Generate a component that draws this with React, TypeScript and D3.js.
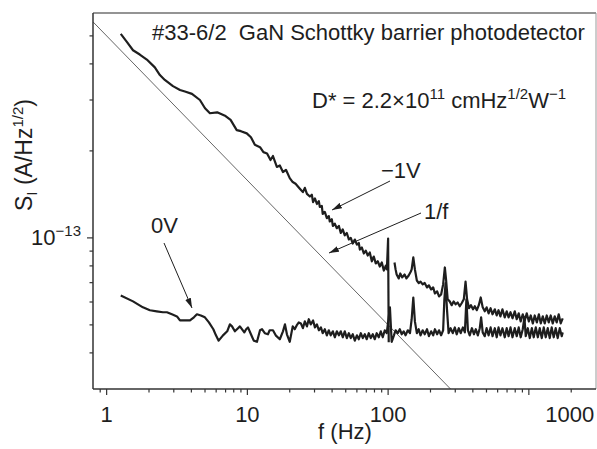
import React, { useEffect, useRef } from "react";
import * as d3 from "d3";

// Noise spectra of a GaN Schottky barrier photodetector (log-log).
// Frequencies in Hz, S_I in units of 1e-14 A/Hz^1/2 (S_UNIT).
const S_UNIT = 1e-14;

// -1V bias trace; null marks a break in the trace just after the 100 Hz line
const freqMinus1V = [
  1.26, 1.4, 1.54, 1.72, 1.93, 2.2, 2.39, 2.59, 2.96, 3.32, 3.6, 4.04, 4.6, 5.0, 5.42, 6.1, 7.0, 7.6, 8.4, 9.0,
  9.9, 10.6, 11.3, 12.3, 13.0, 13.8, 14.6, 15.2, 16.2, 17.0, 17.9, 18.8, 20.0, 21.0, 22.0, 23.6,
  24.8, 25.6, 26.5, 27.8, 28.7, 29.3, 30.2, 31.2, 32.2, 32.7, 33.8, 34.3, 35.5, 36.7, 37.9, 38.5, 39.8, 40.5,
  41.8, 43.2, 44.7, 46.1, 47.6, 49.2, 50.9, 52.6, 54.3, 56.1, 58.0, 60.0, 61.9, 63.0, 65.1, 67.2, 69.4, 71.7,
  74.1, 76.6, 79.1, 81.7, 84.4, 87.3, 90.2, 93.2, 96.3, 98.0, 100, 101, 105,
  111, 113, 115, 119, 122, 126, 131, 135, 140, 145, 147, 151, 155, 160, 165, 170, 176, 182, 189, 195, 202, 209,
  215, 223, 230, 238, 246, 253, 258, 265, 274, 283, 292, 302, 312, 323, 333, 345, 355, 364, 376, 388, 401, 413,
  427, 441, 455, 470, 486, 501, 518, 535, 552, 573, 591, 609, 628, 649, 674, 696, 718, 741, 765, 794, 820, 847,
  875, 905, 935, 966, 1000, 1032, 1067, 1101, 1140, 1178, 1215, 1256, 1297, 1340, 1385, 1430, 1478, 1527, 1577,
  1630, 1684, 1740,
];
const sMinus1V = [
  50.8, 47.5, 44.6, 43.1, 41.4, 38.9, 36.6, 35.2, 33.5, 32.5, 32.1, 31.5, 30.0, 28.1, 27.0, 27.2, 26.4, 25.6, 23.6, 23.4,
  23.0, 22.3, 21.0, 20.6, 19.8, 19.6, 18.6, 19.2, 17.6, 17.8, 16.9, 17.2, 16.1, 15.6, 15.4, 14.8,
  14.4, 14.9, 14.2, 13.9, 14.1, 13.3, 13.7, 13.1, 13.4, 12.8, 12.9, 12.1, 12.3, 11.7, 11.9, 11.4, 11.6, 11.0,
  11.2, 10.8, 11.0, 10.4, 10.7, 10.2, 10.4, 9.87, 10.0, 9.56, 9.87, 9.48, 9.6, 9.11, 9.26, 8.83, 9.04, 8.69,
  8.9, 8.3, 8.62, 8.16, 8.3, 7.96, 8.22, 7.71, 8.02, 7.78, 9.95, 4.35, null,
  8.22, 7.78, 7.47, 7.24, 7.53, 7.3, 7.47, 7.24, 7.41, 7.65, 7.78, 8.56, 7.78, 7.12, 6.98, 7.06, 6.9, 6.98, 6.74, 6.85, 6.63, 6.74,
  6.42, 6.53, 6.27, 6.37, 6.9, 7.9, 7.18, 6.13, 6.03, 5.85, 6.03, 5.89, 5.98, 5.8, 5.94, 6.13, 7.06, 6.13, 5.71, 5.85, 5.66, 5.8,
  5.62, 5.85, 6.22, 5.75, 5.57, 5.75, 5.48, 5.71, 5.44, 5.66, 5.39, 5.62, 5.35, 5.66, 5.31, 5.57, 5.31, 5.53, 5.27, 5.57, 5.23, 5.48,
  5.14, 5.44, 5.18, 5.48, 5.14, 5.39, 5.06, 5.39, 5.1, 5.44, 5.06, 5.35, 5.06, 5.39, 5.1, 5.39, 5.06, 5.35, 5.1,
  5.44, 5.06, 5.27,
];

// 0V bias trace
const freq0V = [
  1.26, 1.54, 1.81, 2.03, 2.27, 2.51, 2.68, 2.91, 3.16, 3.32, 3.6, 3.91, 4.17, 4.38, 4.67, 4.99, 5.33, 5.73, 5.98, 6.25,
  6.71, 7.19, 7.51, 7.78, 8.15, 8.58, 8.85, 9.51, 9.8, 10.1, 10.6, 11.1, 11.7, 12.3, 12.7, 13.3, 14.0, 14.4, 15.2, 15.9,
  17.0, 17.9, 18.5, 19.1, 20.0, 21.0, 21.7, 22.4, 23.2, 24.0, 24.8, 25.6, 26.5, 27.3, 28.2, 29.3, 30.2, 31.2, 32.2, 33.3,
  34.3, 35.5, 36.7, 37.9, 39.1, 40.5, 41.8, 43.2, 44.7, 46.1, 47.6, 49.2, 50.9, 52.6, 54.3, 56.1, 58.0, 60.0, 61.9, 64.0,
  66.1, 68.3, 70.5, 72.9, 75.3, 77.8, 80.4, 83.0, 85.8, 88.7, 91.6, 94.7, 97.8, 100.3, 103, 106, 110, 113, 117, 121,
  125, 129, 133, 138, 143, 147, 151, 155, 160, 165, 170, 176, 182, 189, 195, 202, 209, 215, 223, 230,
  238, 246, 251, 256, 262, 269, 278, 288, 298, 307, 318, 328, 340, 351, 360, 369, 380, 394, 407, 420,
  434, 448, 458, 470, 486, 501, 518, 535, 552, 573, 591, 609, 628, 649, 674, 696, 718, 741, 765, 794,
  820, 847, 875, 905, 930, 950, 983, 1015, 1050, 1083, 1120, 1158, 1195, 1235, 1276, 1318, 1362, 1407, 1453, 1502,
  1551, 1603, 1658, 1713, 1740,
];
const s0V = [
  6.32, 6.03, 5.75, 5.62, 5.57, 5.53, 5.53, 5.44, 5.35, 5.18, 5.18, 5.18, 5.31, 5.44, 5.39, 5.31, 5.1, 4.83, 4.6, 4.41,
  4.6, 4.75, 5.02, 4.94, 4.75, 4.87, 4.94, 4.71, 4.83, 4.9, 4.64, 4.41, 4.37, 4.79, 4.83, 4.68, 4.64, 4.79, 4.79, 4.6,
  4.46, 4.75, 5.02, 4.64, 4.37, 4.94, 4.83, 4.98, 5.1, 5.06, 4.87, 5.14, 4.94, 5.23, 5.02, 5.18, 4.9, 5.02, 4.79, 4.9,
  4.68, 4.83, 4.6, 4.79, 4.6, 4.75, 4.53, 4.75, 4.6, 4.75, 4.53, 4.75, 4.5, 4.68, 4.5, 4.64, 4.41, 4.6, 4.46, 4.68,
  4.5, 4.64, 4.46, 4.68, 4.5, 4.64, 4.46, 4.68, 4.53, 4.75, 4.53, 4.79, 4.68, 5.18, 5.75, 4.37, 4.6, 4.79, 4.68, 4.83,
  4.64, 4.75, 4.6, 4.79, 4.68, 5.23, 6.22, 5.14, 4.68, 4.83, 4.6, 4.79, 4.64, 4.83, 4.57, 4.75, 4.6, 4.83, 4.64, 4.79,
  4.6, 4.79, 6.13, 6.98, 5.66, 4.68, 4.87, 4.68, 4.9, 4.64, 4.87, 4.68, 4.9, 4.71, 6.13, 4.79, 4.6, 4.87, 4.64, 4.83,
  4.6, 4.87, 5.31, 4.71, 4.57, 4.87, 4.6, 4.9, 4.57, 4.87, 4.53, 4.9, 4.6, 4.87, 4.53, 4.87, 4.57, 4.9, 4.53, 4.87,
  4.57, 4.9, 4.53, 4.83, 5.31, 4.57, 4.87, 4.5, 4.87, 4.53, 4.9, 4.53, 4.87, 4.5, 4.9, 4.53, 4.87, 4.5, 4.9, 4.53,
  4.87, 4.5, 4.87, 4.57, 4.71,
];

// 1/f reference (power), i.e. S_I ~ f^-1/2, amplitude at 1 Hz
const oneOverFAt1Hz = 50;
const oneOverFFreq = [0.8, 280];

const xDomain = [0.8, 3000];
const yDomain = [3, 60]; // in S_UNIT
const xTickLabels = [
  { f: 1, text: "1", dx: 0 },
  { f: 10, text: "10", dx: 0 },
  { f: 100, text: "100", dx: 0 },
  { f: 1000, text: "1000", dx: 41 },
];

const FONT = "'Liberation Sans', Arial, Helvetica, sans-serif";
const INK = "#1e1e1e";
const FS = 22;
const SUP = 15;

export default function App() {
  const ref = useRef<SVGSVGElement>(null);

  useEffect(() => {
    const svg = d3.select(ref.current);
    svg.selectAll("*").remove();

    const left = 93, right = 596, top = 13, bottom = 389;
    const x = d3.scaleLog().domain(xDomain).range([left, right]);
    const y = d3.scaleLog().domain(yDomain.map((v) => v * S_UNIT)).range([bottom, top]);

    svg.append("defs").append("marker")
      .attr("id", "arr").attr("viewBox", "0 0 10 6").attr("refX", 10).attr("refY", 3)
      .attr("markerWidth", 10).attr("markerHeight", 6).attr("markerUnits", "userSpaceOnUse")
      .attr("orient", "auto")
      .append("path").attr("d", "M0,0L10,3L0,6z").attr("fill", INK);

    svg.select("defs").append("clipPath").attr("id", "plot")
      .append("rect").attr("x", left).attr("y", top).attr("width", right - left).attr("height", bottom - top);

    // frame: top and right in grey
    svg.append("line").attr("x1", left).attr("x2", right).attr("y1", top).attr("y2", top)
      .attr("stroke", "#707070").attr("stroke-width", 1.5);
    svg.append("line").attr("x1", right).attr("x2", right).attr("y1", top).attr("y2", bottom)
      .attr("stroke", "#9a9a9a").attr("stroke-width", 1);

    // 1/f line
    const ref1f = oneOverFFreq.map((f) => ({ f, s: (oneOverFAt1Hz / Math.sqrt(f)) * S_UNIT }));
    svg.append("path")
      .attr("clip-path", "url(#plot)")
      .attr("d", d3.line<any>().x((d) => x(d.f)).y((d) => y(d.s))(ref1f))
      .attr("fill", "none").attr("stroke", "#555").attr("stroke-width", 0.9);

    const trace = (fs: number[], ss: (number | null)[]) => {
      const pts = fs.map((f, i) => ({ f, s: ss[i] }));
      svg.append("path")
        .attr("clip-path", "url(#plot)")
        .attr("d", d3.line<any>().defined((d) => d.s != null).x((d) => x(d.f)).y((d) => y(d.s * S_UNIT))(pts))
        .attr("fill", "none").attr("stroke", INK).attr("stroke-width", 2.2).attr("stroke-linejoin", "round");
    };
    trace(freqMinus1V, sMinus1V);
    trace(freq0V, s0V);

    // axes
    svg.append("line").attr("x1", left).attr("x2", right).attr("y1", bottom).attr("y2", bottom)
      .attr("stroke", "#333").attr("stroke-width", 1.5);
    svg.append("line").attr("x1", left).attr("x2", left).attr("y1", top).attr("y2", bottom)
      .attr("stroke", "#333").attr("stroke-width", 1.5);

    const isMajor = (v: number) => Math.abs(Math.log10(v) - Math.round(Math.log10(v))) < 1e-6;
    x.ticks().filter((t) => t > xDomain[0] * 1.01 && t < xDomain[1] * 0.99).forEach((t) => {
      svg.append("line").attr("x1", x(t)).attr("x2", x(t)).attr("y1", bottom)
        .attr("y2", bottom + (isMajor(t) ? 6 : 3.5)).attr("stroke", "#333").attr("stroke-width", 1.2);
    });
    y.ticks().filter((t) => t > yDomain[0] * S_UNIT * 1.01 && t < yDomain[1] * S_UNIT * 0.99).forEach((t) => {
      svg.append("line").attr("y1", y(t)).attr("y2", y(t)).attr("x1", left)
        .attr("x2", left - (isMajor(t) ? 6 : 3.5)).attr("stroke", "#333").attr("stroke-width", 1.2);
    });

    const txt = (sel: any) => sel.attr("font-family", FONT).attr("fill", INK);

    xTickLabels.forEach((d) => {
      txt(svg.append("text")).attr("x", x(d.f) + d.dx).attr("y", 422).attr("text-anchor", "middle")
        .attr("font-size", FS).text(d.text);
    });
    txt(svg.append("text")).attr("x", 345).attr("y", 439).attr("text-anchor", "middle")
      .attr("font-size", FS).text("f (Hz)");

    // y major label 10^-13
    const yl = txt(svg.append("text")).attr("x", 81).attr("y", y(1e-13) + 7).attr("text-anchor", "end").attr("font-size", FS);
    yl.append("tspan").text("10");
    yl.append("tspan").attr("font-size", SUP).attr("dy", -9).text("\u221213");

    // y axis title
    const yt = txt(svg.append("text")).attr("transform", `translate(32,155) rotate(-90)`)
      .attr("text-anchor", "middle").attr("font-size", 23);
    yt.append("tspan").text("S");
    yt.append("tspan").attr("font-size", SUP).attr("dy", 5).text("I");
    yt.append("tspan").attr("dy", -5).text(" (A/Hz");
    yt.append("tspan").attr("font-size", SUP).attr("dy", -9).text("1/2");
    yt.append("tspan").attr("dy", 9).text(")");

    // title and detectivity
    txt(svg.append("text")).attr("x", 152).attr("y", 40).attr("font-size", FS)
      .style("white-space", "pre").text("#33-6/2  GaN Schottky barrier photodetector");
    const dt = txt(svg.append("text")).attr("x", 312).attr("y", 108).attr("font-size", FS);
    dt.append("tspan").text("D* = 2.2\u00d710");
    dt.append("tspan").attr("font-size", SUP).attr("dy", -9).text("11");
    dt.append("tspan").attr("dy", 9).text(" cmHz");
    dt.append("tspan").attr("font-size", SUP).attr("dy", -9).text("1/2");
    dt.append("tspan").attr("dy", 9).text("W");
    dt.append("tspan").attr("font-size", SUP).attr("dy", -9).text("\u22121");

    // annotations
    const note = (label: string, lx: number, ly: number, x1: number, y1: number, x2: number, y2: number) => {
      txt(svg.append("text")).attr("x", lx).attr("y", ly).attr("font-size", FS).text(label);
      svg.append("line").attr("x1", x1).attr("y1", y1).attr("x2", x2).attr("y2", y2)
        .attr("stroke", INK).attr("stroke-width", 1).attr("marker-end", "url(#arr)");
    };
    note("0V", 151, 233, 164, 243, 192, 308);
    note("\u22121V", 381, 178, 390, 181, 332, 210);
    note("1/f", 424, 219, 421, 213, 329, 253);
  }, []);

  return (
    <svg ref={ref} width={597} height={449}
      style={{ position: "absolute", left: 0, top: 0, background: "#fff" }} />
  );
}
